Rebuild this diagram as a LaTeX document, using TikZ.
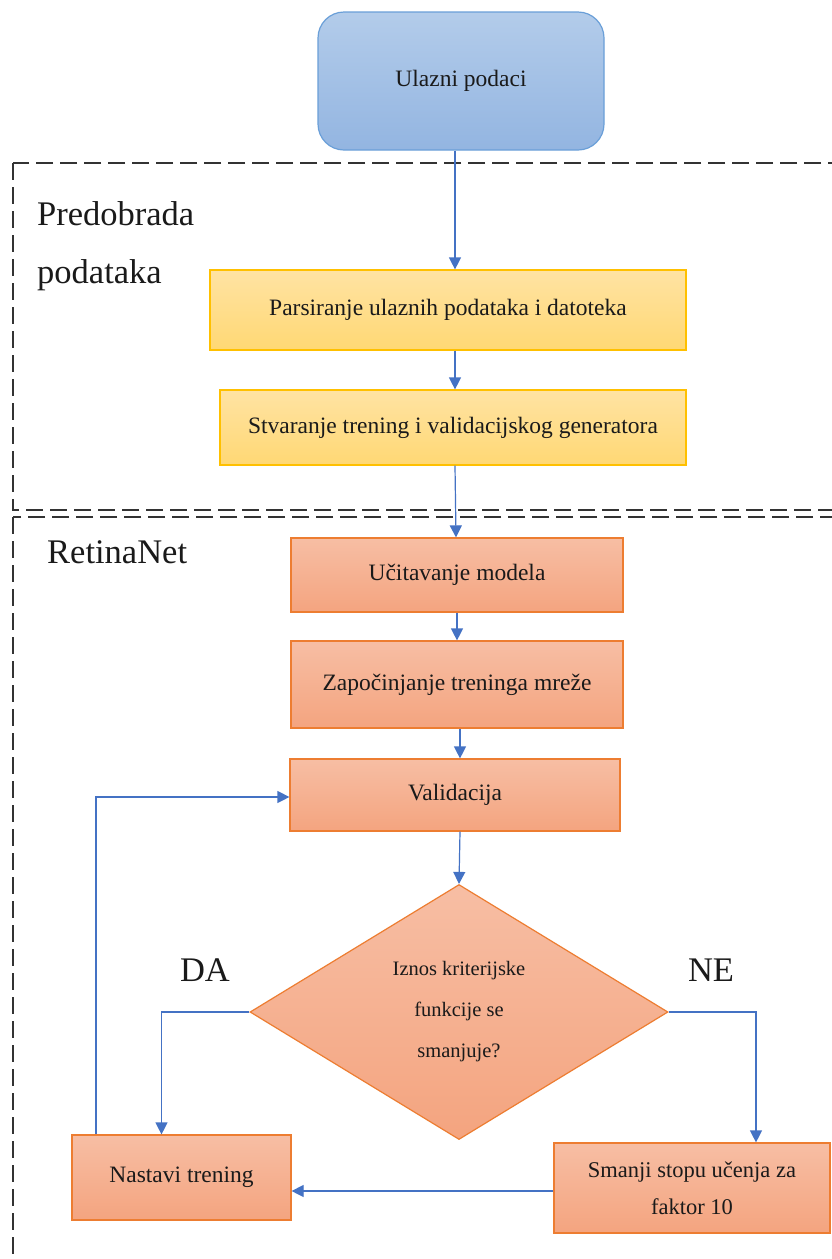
\documentclass[tikz,border=0pt]{standalone}
\usepackage{fontspec}
\setmainfont{Liberation Serif}
\usetikzlibrary{shapes.geometric,arrows.meta}
\definecolor{arrowblue}{HTML}{4472C4}
\definecolor{blueedge}{HTML}{6A9FD8}
\definecolor{bluetop}{HTML}{B3CCEA}
\definecolor{bluebot}{HTML}{93B5E1}
\definecolor{yellowedge}{HTML}{FFC000}
\definecolor{yellowtop}{HTML}{FFE3A3}
\definecolor{yellowbot}{HTML}{FFD874}
\definecolor{orangeedge}{HTML}{ED7D31}
\definecolor{orangetop}{HTML}{F7BEA4}
\definecolor{orangebot}{HTML}{F4A47F}
\definecolor{dashgray}{HTML}{333333}
\definecolor{txt}{HTML}{1A1A1A}
\tikzset{
  boxtext/.style={font=\fontsize{23.5}{27}\selectfont, text=txt, align=center, inner sep=0pt},
  bluebox/.style={boxtext, draw=blueedge, line width=1.2pt, rounded corners=26pt, top color=bluetop, bottom color=bluebot},
  yellowbox/.style={boxtext, draw=yellowedge, line width=1.2pt, top color=yellowtop, bottom color=yellowbot},
  orangebox/.style={boxtext, draw=orangeedge, line width=1.2pt, top color=orangetop, bottom color=orangebot},
  decision/.style={diamond, draw=orangeedge, line width=1.2pt, top color=orangetop, bottom color=orangebot, inner sep=0pt, text=txt, align=center, font=\fontsize{20.5}{41}\selectfont},
  arr/.style={draw=arrowblue, line width=1.2pt, -{Triangle[width=12pt,length=12pt]}},
  group/.style={draw=dashgray, line width=1.8pt, dash pattern=on 17pt off 7pt},
  biglabel/.style={font=\fontsize{34.5}{58}\selectfont, text=txt, align=left, inner sep=0pt},
}
\begin{document}
\begin{tikzpicture}[x=1pt,y=-1pt]
\useasboundingbox (0,0) rectangle (832,1259);
\clip (0,0) rectangle (832,1259);
\fill[white] (0,0) rectangle (832,1259);

% group frames
\draw[group] (13,163) rectangle (850,510);
\draw[group] (13,517) rectangle (850,1280);

% group labels
\node[biglabel, anchor=west] (pre) at (37,246) {Predobrada\\podataka};
\node[biglabel, anchor=west] (ret) at (47,552) {RetinaNet};

% nodes
\node[bluebox, minimum width=286pt, minimum height=138pt] (in) at (461,81) {Ulazni podaci};
\node[yellowbox, minimum width=476pt, minimum height=80pt] (y1) at (448,310) {Parsiranje ulaznih podataka i datoteka};
\node[yellowbox, minimum width=466pt, minimum height=75pt] (y2) at (453,427.5) {Stvaranje trening i validacijskog generatora};
\node[orangebox, minimum width=332pt, minimum height=74pt] (m1) at (457,575) {Učitavanje modela};
\node[orangebox, minimum width=332pt, minimum height=87pt] (m2) at (457,684.5) {Započinjanje treninga mreže};
\node[orangebox, minimum width=330pt, minimum height=72pt] (val) at (455,795) {Validacija};
\node[decision, minimum width=418pt, minimum height=255pt, aspect=1.64] (dia) at (459,1012) {Iznos kriterijske\\funkcije se\\smanjuje?};
\node[orangebox, minimum width=219pt, minimum height=85pt] (nast) at (181.5,1177.5) {Nastavi trening};
\node[orangebox, minimum width=276pt, minimum height=90pt, font=\fontsize{22.5}{37}\selectfont] (sm) at (692,1188) {Smanji stopu učenja za\\faktor 10};

% branch labels
\node[biglabel] (da) at (205,970) {DA};
\node[biglabel] (ne) at (711,970) {NE};

% connectors
\draw[arr] ([xshift=-6pt]in.south) -- ([xshift=7pt]y1.north);
\draw[arr] ([xshift=7pt]y1.south) -- ([xshift=2pt]y2.north);
\draw[arr] ([xshift=2pt]y2.south) -- ([xshift=-1pt]m1.north);
\draw[arr] (m1.south) -- (m2.north);
\draw[arr] ([xshift=3pt]m2.south) -- ([xshift=5pt]val.north);
\draw[arr] ([xshift=5pt]val.south) -- (dia.north);
\draw[arr] (dia.west) -| ([xshift=-20pt]nast.north);
\draw[arr] (dia.east) -| ([xshift=64pt]sm.north);
\draw[arr] ([yshift=-3pt]sm.west) -- ([yshift=-3pt]sm.west -| nast.east);
\draw[arr] ([xshift=-85.5pt]nast.north) |- ([yshift=-2pt]val.west);
\end{tikzpicture}
\end{document}
